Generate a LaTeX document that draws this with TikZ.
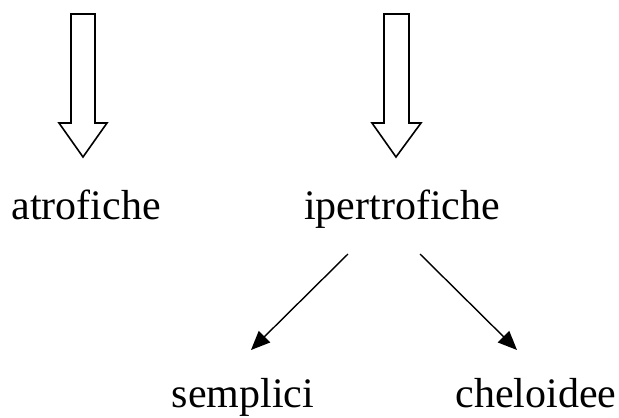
\documentclass[tikz,border=0pt]{standalone}
\usepackage{fontspec}
\setmainfont{Liberation Serif}
\usepackage{tikz}
\usetikzlibrary{arrows.meta}

\begin{document}
\begin{tikzpicture}[x=1pt,y=-1pt,
  word/.style={anchor=base,inner sep=0pt,font=\fontsize{42}{48}\selectfont},
  block/.style={draw,line width=1.6pt,fill=white,line join=miter},
  arr/.style={-{Triangle[length=19pt,width=16pt]},line width=1.4pt}]
\useasboundingbox (0,0) rectangle (619,418);
% block arrows
\draw[block] (71,14) -- (95,14) -- (95,123) -- (107,123) -- (83,157) -- (59,123) -- (71,123) -- cycle;
\draw[block] (384,14) -- (409,14) -- (409,123) -- (421,123) -- (396,157) -- (372,123) -- (384,123) -- cycle;
% words
\node[word] (atro) at (86,219) {atrofiche};
\node[word] (iper) at (402,219) {ipertrofiche};
\node[word] (sempl) at (243,407) {semplici};
\node[word] (chel) at (536,407) {cheloidee};
% split
\coordinate (iperL) at (348,254);
\coordinate (iperR) at (420,254);
\coordinate (semplT) at (251,350);
\coordinate (chelT) at (517,350);
\draw[arr] (iperL) -- (semplT);
\draw[arr] (iperR) -- (chelT);
\end{tikzpicture}
\end{document}
